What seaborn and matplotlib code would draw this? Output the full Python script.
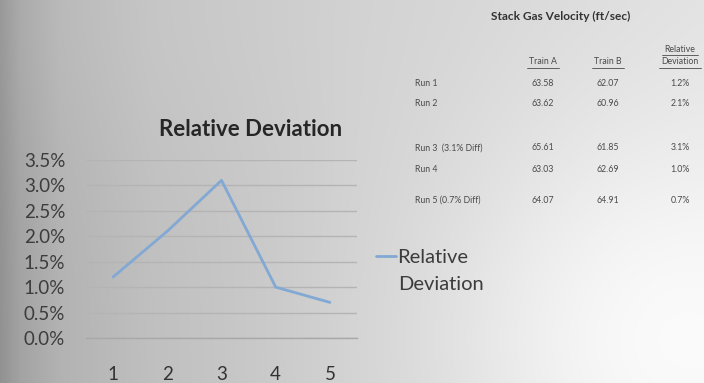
import numpy as np
import pandas as pd
import matplotlib
matplotlib.use("Agg")
import matplotlib.pyplot as plt
from matplotlib.ticker import FuncFormatter, FixedLocator
import seaborn as sns

# Chart series
runs = [1, 2, 3, 4, 5]
rel_dev = [1.2, 2.1, 3.1, 1.0, 0.7]  # percent

# Table contents
table_title = "Stack Gas Velocity (ft/sec)"
row_labels = ["Run 1", "Run 2", "Run 3  (3.1% Diff)", "Run 4", "Run 5 (0.7% Diff)"]
train_a = ["63.58", "63.62", "65.61", "63.03", "64.07"]
train_b = ["62.07", "60.96", "61.85", "62.69", "64.91"]
dev_labels = ["1.2%", "2.1%", "3.1%", "1.0%", "0.7%"]
col_headers = ["Train A", "Train B", "Relative\nDeviation"]

sns.set_theme(style="white")
plt.rcParams["font.family"] = ["Lato", "DejaVu Sans"]

W, H = 704, 383
fig = plt.figure(figsize=(W / 100, H / 100), dpi=100)

# Grey slide background, darker on the left, brighter toward the lower right
bg = fig.add_axes([0, 0, 1, 1], zorder=-10)
yy, xx = np.mgrid[0:H, 0:W]
base = np.interp(xx, [0, 20, 60, 150, 350, 550, 704],
                 [0.57, 0.64, 0.70, 0.75, 0.81, 0.85, 0.88])
glow = 0.11 * np.exp(-((xx - 640) ** 2 + (yy - 340) ** 2) / (2 * 160 ** 2))
top = 0.03 * np.exp(-(yy ** 2) / (2 * 120 ** 2) - (xx ** 2) / (2 * 250 ** 2))
shade = np.clip(base + glow + top, 0, 1)
bg.imshow(np.dstack([shade] * 3), aspect="auto", extent=[0, W, H, 0])
bg.set_axis_off()


def px(x0, y0, x1, y1):
    return [x0 / W, 1 - y1 / H, (x1 - x0) / W, (y1 - y0) / H]


line_color = "#82a8d4"
ax = fig.add_axes(px(86, 160, 357, 338))
ax.patch.set_alpha(0)
df = pd.DataFrame({"run": runs, "dev": rel_dev})
sns.lineplot(data=df, x="run", y="dev", ax=ax, color=line_color,
             linewidth=2.0, label="Relative")

ax.set_xlim(0.5, 5.5)
ax.set_ylim(0, 3.5)
ax.yaxis.set_major_locator(FixedLocator(np.arange(0, 3.51, 0.5)))
ax.yaxis.set_major_formatter(FuncFormatter(lambda v, _: f"{v:.1f}%"))
ax.set_xticks(runs)
ax.grid(axis="y", color="#b4b4b4", linewidth=1.0)
ax.grid(axis="x", visible=False)
for side in ["left", "right", "top"]:
    ax.spines[side].set_visible(False)
ax.spines["bottom"].set_color("#a8a8a8")
ax.spines["bottom"].set_linewidth(1.0)
ax.tick_params(axis="y", length=0, pad=15, labelsize=13.5, labelcolor="#3c3c3c")
ax.tick_params(axis="x", length=0, pad=20, labelsize=13.5, labelcolor="#333333")
ax.set_xlabel("")
ax.set_ylabel("")

# Chart title, centred over plot and legend
fig.text(251 / W, 1 - 129 / H, "Relative Deviation", ha="center", va="center",
         fontsize=16, fontweight="bold", color="#262626")

leg = ax.legend(loc="center left", bbox_to_anchor=(1.025, 0.452), frameon=False,
                fontsize=14.5, handlelength=1.0, handletextpad=0.05,
                borderaxespad=0.2, labelcolor="#3c3c3c")
fig.text(398 / W, 1 - 284 / H, "Deviation", ha="left", va="center",
         fontsize=14.5, color="#3c3c3c")

# Data table
tc = "#4a4a4a"
fig.text(561 / W, 1 - 16 / H, table_title, ha="center", va="center",
         fontsize=8.6, fontweight="bold", color="#333333")
col_x = [543, 608, 680]
for cx, head in zip(col_x, col_headers):
    lines = head.split("\n")
    for k, ln in enumerate(reversed(lines)):
        ty = 62 - 13 * k
        fig.text(cx / W, 1 - ty / H, ln, ha="center", va="center",
                 fontsize=6.3, color=tc)
        halfw = len(ln) * 2.3
        fig.add_artist(plt.Line2D([(cx - halfw) / W, (cx + halfw) / W],
                                  [1 - (ty + 5.5) / H] * 2, color=tc, lw=0.6))
row_y = [83, 103, 148, 170, 200]
for ry, lab, a, b, d in zip(row_y, row_labels, train_a, train_b, dev_labels):
    fig.text(415 / W, 1 - ry / H, lab, ha="left", va="center", fontsize=6.3, color=tc)
    for cx, val in zip(col_x, [a, b, d]):
        fig.text(cx / W, 1 - ry / H, val, ha="center", va="center",
                 fontsize=6.3, color=tc)

fig.savefig("out.png", dpi=100)
